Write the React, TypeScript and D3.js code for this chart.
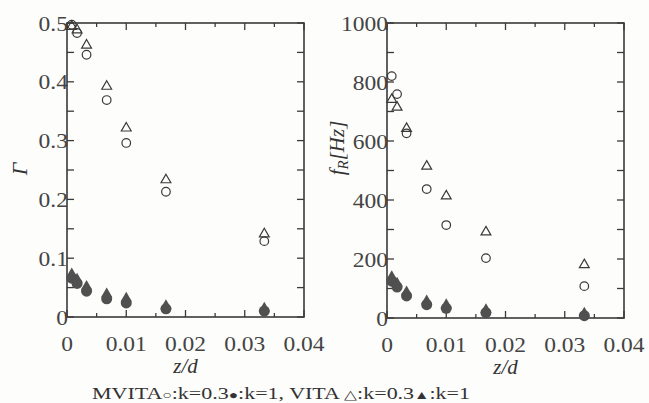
import { useEffect, useRef } from "react";
import * as d3 from "d3";

// z/d positions of the measurements
const zd = [0.0008, 0.0017, 0.0033, 0.0067, 0.01, 0.0167, 0.0333];

// left panel: circulation Gamma
const gammaMvitaK03 = [0.497, 0.483, 0.446, 0.369, 0.296, 0.213, 0.129];
const gammaVitaK03 = [0.495, 0.489, 0.463, 0.393, 0.322, 0.234, 0.142];
const gammaMvitaK1 = [0.066, 0.057, 0.044, 0.031, 0.024, 0.014, 0.01];
const gammaVitaK1 = [0.073, 0.064, 0.052, 0.039, 0.032, 0.019, 0.015];

// right panel: frequency f_R [Hz]
const freqMvitaK03 = [820, 759, 626, 437, 315, 203, 108];
const freqVitaK03 = [742, 716, 644, 516, 415, 293, 182];
const freqMvitaK1 = [125, 105, 75, 45, 33, 18, 8];
const freqVitaK1 = [140, 118, 88, 58, 45, 28, 16];

const xTicks = [0, 0.01, 0.02, 0.03, 0.04];
const gammaTicks = [0, 0.1, 0.2, 0.3, 0.4, 0.5];
const freqTicks = [0, 200, 400, 600, 800, 1000];

const ink = "#3a3a3a";
const fill = "#505050";
const serif = "'Liberation Serif', 'Times New Roman', serif";

export default function App() {
  const ref = useRef<SVGSVGElement>(null);

  useEffect(() => {
    const svg = d3.select(ref.current);
    svg.selectAll("*").remove();

    const panel = (
      left: number,
      right: number,
      top: number,
      bottom: number,
      yMax: number,
      yTicks: number[],
      yMinorStep: number,
      yFmt: (v: number) => string,
      openC: number[],
      openT: number[],
      fillC: number[],
      fillT: number[]
    ) => {
      const x = d3.scaleLinear().domain([0, 0.04]).range([left, right]);
      const y = d3.scaleLinear().domain([0, yMax]).range([bottom, top]);
      const g = svg.append("g");

      // ticks, inward on all four sides
      const xMinor = d3.range(0, 0.0401, 0.005);
      xMinor.forEach((v, i) => {
        const len = i % 2 === 0 ? 7 : 4;
        g.append("line").attr("x1", x(v)).attr("x2", x(v))
          .attr("y1", bottom).attr("y2", bottom - len)
          .attr("stroke", ink).attr("stroke-width", 1.3);
        g.append("line").attr("x1", x(v)).attr("x2", x(v))
          .attr("y1", top).attr("y2", top + len)
          .attr("stroke", ink).attr("stroke-width", 1.3);
      });
      const yMinor = d3.range(0, yMax + yMinorStep / 10, yMinorStep);
      yMinor.forEach((v) => {
        g.append("line").attr("x1", left).attr("x2", left + 7)
          .attr("y1", y(v)).attr("y2", y(v))
          .attr("stroke", ink).attr("stroke-width", 1.3);
        g.append("line").attr("x1", right).attr("x2", right - 7)
          .attr("y1", y(v)).attr("y2", y(v))
          .attr("stroke", ink).attr("stroke-width", 1.3);
      });

      g.append("rect")
        .attr("x", left).attr("y", top)
        .attr("width", right - left).attr("height", bottom - top)
        .attr("fill", "none").attr("stroke", ink).attr("stroke-width", 1.6);

      // tick labels, slightly stretched sideways like the scan
      g.selectAll(".xl").data(xTicks).join("text")
        .attr("transform", (d) => `translate(${x(d)},${bottom + 34}) scale(1.12,1)`)
        .attr("text-anchor", "middle")
        .attr("font-family", serif).attr("font-size", 21).attr("fill", "#444")
        .text((d) => (d === 0 ? "0" : String(d)));

      g.selectAll(".yl").data(yTicks).join("text")
        .attr("transform", (d) => `translate(${left + 1},${y(d) + 7.5}) scale(1.12,1)`)
        .attr("text-anchor", "end")
        .attr("font-family", serif).attr("font-size", 21).attr("fill", "#444")
        .text((d) => yFmt(d));

      g.append("text")
        .attr("x", (left + right) / 2).attr("y", bottom + 56)
        .attr("text-anchor", "middle")
        .attr("font-family", serif).attr("font-style", "italic")
        .attr("font-size", 21).attr("fill", "#333")
        .text("z/d");

      const tri = d3.symbol().type(d3.symbolTriangle);

      // filled markers first, then the open ones
      g.selectAll(".fc").data(fillC).join("circle")
        .attr("cx", (_, i) => x(zd[i])).attr("cy", (d) => y(d))
        .attr("r", 5.5).attr("fill", fill);
      g.selectAll(".ft").data(fillT).join("path")
        .attr("d", tri.size(55)())
        .attr("transform", (d, i) => `translate(${x(zd[i])},${y(d)})`)
        .attr("fill", fill);
      g.selectAll(".oc").data(openC).join("circle")
        .attr("cx", (_, i) => x(zd[i])).attr("cy", (d) => y(d))
        .attr("r", 4.3).attr("fill", "none")
        .attr("stroke", ink).attr("stroke-width", 1.2);
      g.selectAll(".ot").data(openT).join("path")
        .attr("d", tri.size(42)())
        .attr("transform", (d, i) => `translate(${x(zd[i])},${y(d) + 0.5})`)
        .attr("fill", "none").attr("stroke", ink).attr("stroke-width", 1.2);
    };

    panel(67, 304, 23, 317, 0.5, gammaTicks, 0.05,
      (d) => (d === 0 ? "0" : d3.format(".1f")(d)),
      gammaMvitaK03, gammaVitaK03, gammaMvitaK1, gammaVitaK1);
    panel(387, 624, 23, 318, 1000, freqTicks, 100,
      (d) => String(d),
      freqMvitaK03, freqVitaK03, freqMvitaK1, freqVitaK1);

    // y axis titles
    svg.append("text")
      .attr("transform", "translate(27,169) rotate(-90)")
      .attr("text-anchor", "middle")
      .attr("font-family", serif).attr("font-style", "italic")
      .attr("font-size", 22).attr("fill", "#333")
      .text("Γ");

    const fr = svg.append("text")
      .attr("transform", "translate(344,148) rotate(-90)")
      .attr("text-anchor", "middle")
      .attr("font-family", serif).attr("font-style", "italic")
      .attr("font-size", 21).attr("fill", "#333");
    fr.append("tspan").text("f");
    fr.append("tspan").attr("font-size", 15).attr("dy", 4).text("R");
    fr.append("tspan").attr("dy", -4).text("[Hz]");

    // legend line
    const lg = svg.append("text")
      .attr("x", 92).attr("y", 399)
      .attr("font-family", serif).attr("font-size", 17).attr("fill", "#333")
      .attr("textLength", 378).attr("lengthAdjust", "spacingAndGlyphs");
    lg.append("tspan").text("MVITA");
    lg.append("tspan").attr("font-size", 12).text("○");
    lg.append("tspan").text(":k=0.3");
    lg.append("tspan").attr("font-size", 12).text("●");
    lg.append("tspan").text(":k=1,  VITA ");
    lg.append("tspan").attr("font-size", 13).text("△");
    lg.append("tspan").text(":k=0.3");
    lg.append("tspan").attr("font-size", 12).text("▲");
    lg.append("tspan").text(":k=1");
  }, []);

  return (
    <svg
      ref={ref}
      width={649}
      height={403}
      style={{ position: "absolute", left: 0, top: 0, background: "#fdfdfc" }}
    />
  );
}
